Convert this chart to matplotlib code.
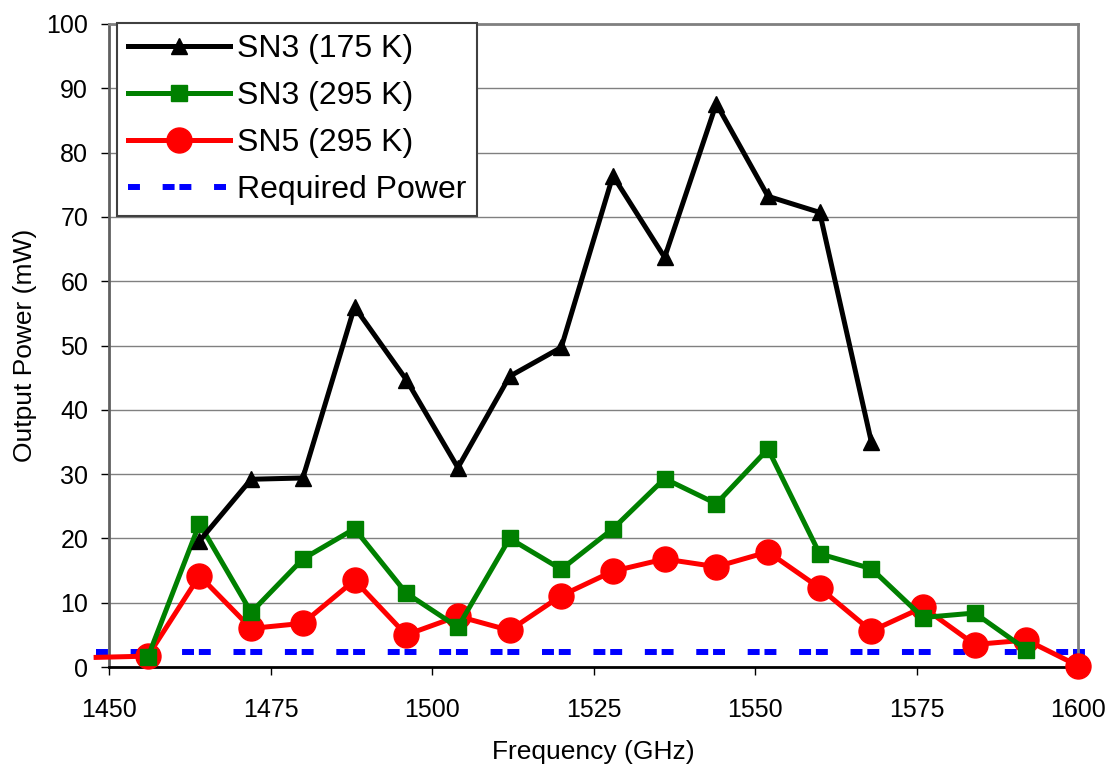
import matplotlib
matplotlib.use("Agg")
import matplotlib.pyplot as plt

plt.rcParams['font.family'] = ['Liberation Sans', 'DejaVu Sans']

freq_black = [1464, 1472, 1480, 1488, 1496, 1504, 1512, 1520, 1528, 1536, 1544, 1552, 1560, 1568]
sn3_175 = [19.6, 29.2, 29.4, 56.0, 44.7, 31.0, 45.2, 49.7, 76.4, 63.7, 87.6, 73.2, 70.7, 35.0]

freq_green = [1456, 1464, 1472, 1480, 1488, 1496, 1504, 1512, 1520, 1528, 1536, 1544, 1552, 1560, 1568, 1576, 1584, 1592]
sn3_295 = [1.5, 22.3, 8.5, 16.8, 21.5, 11.5, 6.2, 20.0, 15.2, 21.5, 29.3, 25.4, 33.9, 17.6, 15.3, 7.7, 8.4, 2.7]

freq_red = [1456, 1464, 1472, 1480, 1488, 1496, 1504, 1512, 1520, 1528, 1536, 1544, 1552, 1560, 1568, 1576, 1584, 1592, 1600]
sn5_295 = [1.7, 14.2, 6.0, 6.8, 13.5, 5.0, 7.9, 5.7, 11.1, 14.9, 16.8, 15.6, 17.9, 12.3, 5.6, 9.3, 3.5, 4.2, 0.2]
red_lead_freq = [1448, 1456]
red_lead_val = [1.5, 1.7]

req_freq = [1448, 1601.5]
req_power = [2.3, 2.3]

xticks = [1450, 1475, 1500, 1525, 1550, 1575, 1600]
yticks = list(range(0, 101, 10))

fig = plt.figure(figsize=(11.08, 7.66), dpi=100)
ax = fig.add_axes([0.0984, 0.1292, 0.8746, 0.8395])

lw_line = 3.6
ax.plot(req_freq, req_power, color='#0000FF', lw=4.3, ls=(0, (2.0, 3.8, 2.0, 0.81)),
        clip_on=False, label='Required Power', zorder=2)
ax.plot(red_lead_freq, red_lead_val, color='#FF0000', lw=lw_line, clip_on=False, zorder=3)
ax.plot(freq_black, sn3_175, color='black', lw=lw_line, marker='^', ms=11,
        label='SN3 (175 K)', zorder=5, clip_on=False)
ax.plot(freq_green, sn3_295, color='#008000', lw=lw_line, marker='s', ms=12,
        label='SN3 (295 K)', zorder=4, clip_on=False)
ax.plot(freq_red, sn5_295, color='#FF0000', lw=lw_line, marker='o', ms=18,
        label='SN5 (295 K)', zorder=3, clip_on=False)

ax.set_xlim(1450, 1600)
ax.set_ylim(0, 100)
ax.set_xticks(xticks)
ax.set_yticks(yticks)
ax.tick_params(axis='both', labelsize=18, direction='out', length=6, width=1)
ax.tick_params(axis='x', pad=16)
ax.tick_params(axis='y', pad=9)
ax.yaxis.grid(True, color='#808080', lw=1)
ax.set_axisbelow(True)
for s in ['top', 'right']:
    ax.spines[s].set_color('#808080')
    ax.spines[s].set_linewidth(2)
ax.spines['left'].set_color('#606060')
ax.spines['left'].set_linewidth(2)
ax.spines['bottom'].set_color('black')
ax.spines['bottom'].set_linewidth(2)

ax.set_xlabel('Frequency (GHz)', fontsize=19, labelpad=13)
ax.set_ylabel('Output Power (mW)', fontsize=19, labelpad=7)

handles, labels = ax.get_legend_handles_labels()
order = [1, 2, 3, 0]
leg = ax.legend([handles[i] for i in order], [labels[i] for i in order],
                loc='upper left', bbox_to_anchor=(0.0083, 1.0015), fontsize=23,
                fancybox=False, framealpha=1, edgecolor='#404040',
                handlelength=3.2, handletextpad=0.2, borderpad=0.35,
                labelspacing=0.53, borderaxespad=0, markerscale=1.0)
leg.get_frame().set_linewidth(1.5)
leg.set_zorder(10)

fig.savefig('out.png', dpi=100)
